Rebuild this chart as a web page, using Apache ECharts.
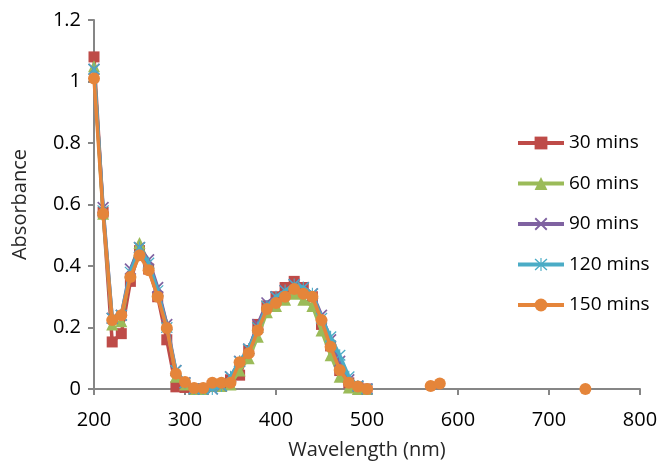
<!DOCTYPE html>
<html>
<head>
<meta charset="utf-8">
<script src="https://cdn.jsdelivr.net/npm/echarts@6/dist/echarts.min.js"></script>
<style>
html,body{margin:0;padding:0;background:#fff;}
#chart{width:658px;height:461px;}
</style>
</head>
<body>
<div id="chart"></div>
<script>
// Wavelengths (nm)
var wavelengths = [200,210,220,230,240,250,260,270,280,290,300,310,320,330,340,350,360,370,380,390,400,410,420,430,440,450,460,470,480,490,500];
var seriesNames = ['30 mins','60 mins','90 mins','120 mins','150 mins'];
var abs30  = [1.08,0.575,0.153,0.18,0.35,0.45,0.39,0.30,0.16,0.007,0.005,0.0,0.0,0.01,0.015,0.03,0.045,0.125,0.21,0.27,0.30,0.33,0.35,0.33,0.30,0.21,0.14,0.06,0.02,0.005,0.0];
var abs60  = [1.05,0.57,0.21,0.22,0.38,0.475,0.41,0.32,0.21,0.04,0.015,0.0,0.0,0.01,0.01,0.015,0.06,0.10,0.17,0.25,0.27,0.29,0.31,0.29,0.27,0.19,0.11,0.04,0.005,0.0,0.0];
var abs90  = [1.04,0.59,0.23,0.24,0.39,0.46,0.42,0.33,0.21,0.06,0.02,0.0,0.0,0.0,0.01,0.04,0.09,0.13,0.21,0.28,0.30,0.32,0.34,0.33,0.31,0.24,0.16,0.09,0.03,0.01,0.0];
var abs120 = [1.04,0.58,0.23,0.24,0.38,0.46,0.41,0.32,0.20,0.06,0.02,0.0,0.0,0.0,0.01,0.04,0.09,0.13,0.20,0.27,0.30,0.32,0.34,0.33,0.31,0.23,0.17,0.11,0.04,0.01,0.0];
var abs150 = [1.01,0.57,0.224,0.24,0.364,0.435,0.386,0.30,0.198,0.05,0.023,0.003,0.003,0.02,0.02,0.02,0.087,0.116,0.19,0.26,0.28,0.30,0.325,0.31,0.30,0.224,0.137,0.062,0.02,0.008,0.0];
// extra isolated readings for 150 mins (gaps shown as null)
var wavelengths150Tail = [null,570,580,null,740];
var abs150Tail         = [null,0.01,0.018,null,0.0];
var xTicks = [200,300,400,500,600,700,800];
var yTicks = [0,0.2,0.4,0.6,0.8,1,1.2];

function pairs(xs, ys){ return xs.map(function(x,i){ return [x, ys[i]]; }); }

var colors = ['#BE4B48','#9BBB59','#7F62A1','#4BACC6','#E5853A'];
var xPath = 'path://M-1,-0.8 L-0.8,-1 L1,0.8 L0.8,1 Z M0.8,-1 L1,-0.8 L-0.8,1 L-1,0.8 Z';
var starPath = 'path://M-0.09,-1 L0.09,-1 L0.09,1 L-0.09,1 Z M-1,-0.8 L-0.85,-0.95 L1,0.8 L0.85,0.95 Z M0.85,-0.95 L1,-0.8 L-0.85,0.95 L-1,0.8 Z';
var symbols = ['rect','triangle',xPath,starPath,'circle'];
var sizes = [11,12,12,12,12];
var datas = [
  pairs(wavelengths, abs30),
  pairs(wavelengths, abs60),
  pairs(wavelengths, abs90),
  pairs(wavelengths, abs120),
  pairs(wavelengths, abs150).concat(pairs(wavelengths150Tail, abs150Tail))
];

var font = '"Open Sans", "Liberation Sans", sans-serif';
var chart = echarts.init(document.getElementById('chart'), null, {renderer:'canvas'});
chart.setOption({
  animation:false,
  color: colors,
  grid:{left:94, right:18, top:20, bottom:72, containLabel:false, outerBoundsMode:'none'},
  xAxis:{
    type:'value', min:200, max:800, interval:100,
    name:'Wavelength (nm)', nameLocation:'middle', nameGap:51,
    nameTextStyle:{fontFamily:font, fontSize:20, color:'#262626'},
    axisLine:{show:true, onZero:false, lineStyle:{color:'#868686', width:2}},
    axisTick:{show:true, length:6, lineStyle:{color:'#868686', width:2}},
    axisLabel:{fontFamily:font, fontSize:20, color:'#000', margin:21},
    splitLine:{show:false}
  },
  yAxis:{
    type:'value', min:0, max:1.2, interval:0.2,
    name:'Absorbance', nameLocation:'middle', nameGap:64,
    nameTextStyle:{fontFamily:font, fontSize:20, color:'#262626'},
    axisLine:{show:true, lineStyle:{color:'#868686', width:2}},
    axisTick:{show:true, length:6, lineStyle:{color:'#868686', width:2}},
    axisLabel:{fontFamily:font, fontSize:20, color:'#000', margin:13},
    splitLine:{show:false}
  },
  legend:{
    orient:'vertical', left:516, top:133, padding:0,
    itemWidth:46, itemHeight:16, itemGap:20.5,
    lineStyle:{width:4},
    textStyle:{fontFamily:font, fontSize:19, color:'#000', lineHeight:20},
    data: seriesNames
  },
  series: seriesNames.map(function(n,i){
    return {
      name:n, type:'line', data:datas[i],
      symbol:symbols[i], symbolSize:sizes[i], showAllSymbol:true,
      lineStyle:{width:3.5, color:colors[i]},
      itemStyle:{color:colors[i]},
      connectNulls:false, z:2+i
    };
  })
});
</script>
</body>
</html>
